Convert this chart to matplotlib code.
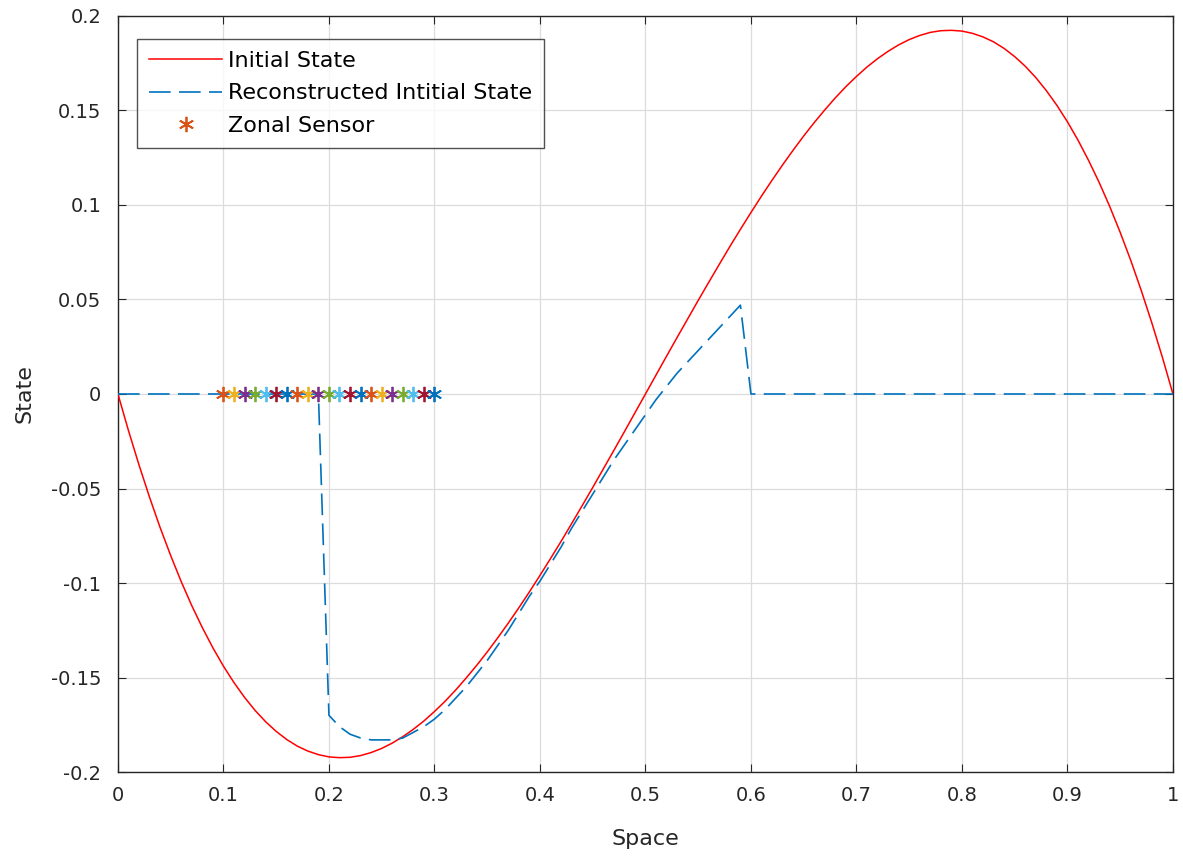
import numpy as np
import matplotlib
matplotlib.use('Agg')
import matplotlib.pyplot as plt

# Initial state (step 0.01)
x_init = np.round(np.arange(0, 1.0001, 0.01), 2)
y_init = [0.0, -0.0194, -0.0376, -0.0547, -0.0707, -0.0855, -0.0993, -0.1120,
          -0.1236, -0.1343, -0.1440, -0.1527, -0.1605, -0.1674, -0.1734, -0.1785,
          -0.1828, -0.1863, -0.1889, -0.1908, -0.1920, -0.1924, -0.1922, -0.1913,
          -0.1897, -0.1875, -0.1847, -0.1813, -0.1774, -0.1730, -0.1680, -0.1626,
          -0.1567, -0.1503, -0.1436, -0.1365, -0.1290, -0.1212, -0.1131, -0.1047,
          -0.0960, -0.0871, -0.0780, -0.0686, -0.0591, -0.0495, -0.0397, -0.0299,
          -0.0200, -0.0100, 0.0,
          0.0100, 0.0200, 0.0299, 0.0397, 0.0495, 0.0591, 0.0686, 0.0780,
          0.0871, 0.0960, 0.1047, 0.1131, 0.1212, 0.1290, 0.1365, 0.1436,
          0.1503, 0.1567, 0.1626, 0.1680, 0.1730, 0.1774, 0.1813, 0.1847,
          0.1875, 0.1897, 0.1913, 0.1922, 0.1924, 0.1920, 0.1908, 0.1889,
          0.1863, 0.1828, 0.1785, 0.1734, 0.1674, 0.1605, 0.1527, 0.1440,
          0.1343, 0.1236, 0.1120, 0.0993, 0.0855, 0.0707, 0.0547, 0.0376,
          0.0194, 0.0]

# Reconstructed initial state
x_rec = [0.0, 0.19, 0.20, 0.21, 0.22, 0.23, 0.24, 0.25, 0.26, 0.27, 0.28, 0.29,
         0.30, 0.31, 0.32, 0.33, 0.34, 0.35, 0.36, 0.37, 0.38, 0.39, 0.40, 0.41,
         0.42, 0.43, 0.44, 0.45, 0.46, 0.47, 0.48, 0.49, 0.50, 0.51, 0.52, 0.53,
         0.54, 0.55, 0.56, 0.57, 0.58, 0.59, 0.60, 1.0]
y_rec = [0.0, 0.0, -0.170, -0.176, -0.180, -0.182, -0.183, -0.183, -0.183, -0.182,
         -0.179, -0.176, -0.172, -0.167, -0.161, -0.155, -0.148, -0.141, -0.133,
         -0.125, -0.116, -0.107, -0.099, -0.090, -0.081, -0.071, -0.062, -0.053,
         -0.044, -0.035, -0.027, -0.019, -0.011, -0.003, 0.004, 0.011, 0.017,
         0.023, 0.029, 0.035, 0.041, 0.047, 0.0, 0.0]

# Zonal sensors
x_sensor = [0.10, 0.11, 0.12, 0.13, 0.14, 0.15, 0.16, 0.17, 0.18, 0.19, 0.20,
            0.21, 0.22, 0.23, 0.24, 0.25, 0.26, 0.27, 0.28, 0.29, 0.30]
y_sensor = [0.0] * len(x_sensor)

# MATLAB default color order
matlab_colors = ['#0072BD', '#D95319', '#EDB120', '#7E2F8E',
                 '#77AC30', '#4DBEEE', '#A2142F']

plt.rcParams['font.family'] = ['DejaVu Sans']

fig = plt.figure(figsize=(11.83, 8.58), dpi=100)
ax = fig.add_axes([0.0997, 0.1002, 0.8918, 0.8812])

ax.plot(x_init, y_init, color='red', lw=1.1, label='Initial State', zorder=3)
ax.plot(x_rec, y_rec, color=matlab_colors[0], lw=1.2, dashes=(13, 5),
        label='Reconstructed Intitial State', zorder=3)
for i, (xs, ys) in enumerate(zip(x_sensor, y_sensor)):
    c = matlab_colors[(i + 1) % len(matlab_colors)]
    ax.plot(xs, ys, marker=(6, 2, 0), linestyle='none', color=c, markersize=11,
            markeredgewidth=1.3, label='Zonal Sensor' if i == 0 else None, zorder=4)

ax.set_xlim(0, 1)
ax.set_ylim(-0.2, 0.2)
ax.set_xticks(np.arange(0, 1.01, 0.1))
ax.set_xticklabels(['0', '0.1', '0.2', '0.3', '0.4', '0.5', '0.6', '0.7', '0.8', '0.9', '1'])
ax.set_yticks(np.arange(-0.2, 0.201, 0.05))
ax.set_yticklabels(['-0.2', '-0.15', '-0.1', '-0.05', '0', '0.05', '0.1', '0.15', '0.2'])
ax.tick_params(direction='in', top=True, right=True, labelsize=14, length=6,
               color='#262626', labelcolor='#262626')
ax.tick_params(axis='x', pad=10)
ax.tick_params(axis='y', pad=12)
ax.grid(True, color='#dcdcdc', lw=0.9)
for s in ax.spines.values():
    s.set_color('#262626')
    s.set_linewidth(1.0)

ax.set_xlabel('Space', fontsize=16, color='#262626', labelpad=17)
ax.set_ylabel('State', fontsize=16, color='#262626', labelpad=12)

leg = ax.legend(loc='upper left', bbox_to_anchor=(0.018, 0.97), fontsize=16,
                frameon=True, fancybox=False, edgecolor='#262626',
                handlelength=3.3, borderpad=0.55, labelspacing=0.56,
                handletextpad=0.25, borderaxespad=0)
leg.get_frame().set_linewidth(1.0)

plt.savefig('out.png', dpi=100)
